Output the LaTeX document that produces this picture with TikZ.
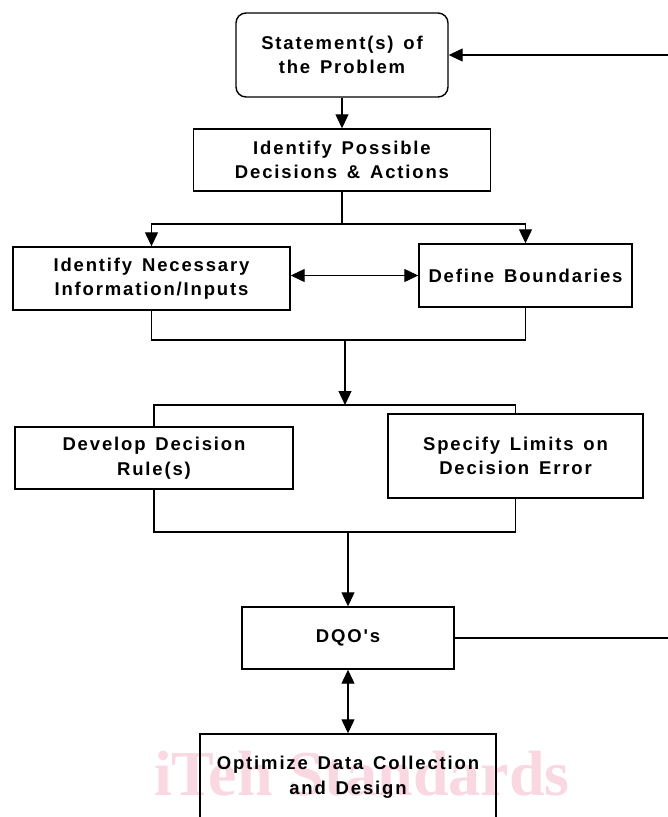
\documentclass[tikz,border=0pt]{standalone}
\usepackage{fontspec}
\setmainfont{Liberation Sans}
\newfontfamily\boxfont{Liberation Sans}[LetterSpace=10,WordSpace=1.4]
\newfontfamily\markfont{Liberation Serif}
\usetikzlibrary{arrows.meta}

\definecolor{markpink}{RGB}{249,216,226}

\begin{document}
\begin{tikzpicture}[x=1pt,y=-1pt,
  box/.style={draw, line width=1.4pt, inner sep=0pt, align=center,
    font=\boxfont\bfseries\fontsize{18.5}{24.5}\selectfont},
  link/.style={line width=1.2pt},
  arr/.style={link, -{Triangle[length=14pt,width=13pt]}},
  dbl/.style={link, {Triangle[length=14pt,width=13pt]}-{Triangle[length=14pt,width=13pt]}}]

% page area
\useasboundingbox (0,0) rectangle (668,817);
\fill[white] (0,0) rectangle (668,817);
\clip (0,0) rectangle (668,817);

% watermark behind everything
\node[text=markpink, inner sep=0pt, anchor=base west,
  font=\markfont\bfseries\fontsize{64}{64}\selectfont] (mark) at (154,795) {iTeh Standards};

% process boxes
\node[box, rounded corners=10pt, minimum width=212pt, minimum height=84pt] (stmt) at (342,55) {Statement(s) of\\the Problem};
\node[box, minimum width=297pt, minimum height=62pt] (poss) at (342,160) {Identify Possible\\Decisions \& Actions};
\node[box, minimum width=277pt, minimum height=63pt] (info) at (151.5,278.5) {Identify Necessary\\Information/Inputs};
\node[box, minimum width=213pt, minimum height=63pt] (bound) at (525.5,275.5) {Define Boundaries};
\node[box, minimum width=278pt, minimum height=62pt] (rule) at (154,458) {Develop Decision\\Rule(s)};
\node[box, minimum width=255pt, minimum height=84pt] (limit) at (515.5,456) {Specify Limits on\\Decision Error};
\node[box, minimum width=212pt, minimum height=62pt] (dqo) at (348,638) {DQO's};
\node[box, minimum width=296pt, minimum height=86pt] (opt) at (348,777) {Optimize Data Collection\\and Design};

% junction points
\coordinate (fbtop) at (668,55);
\coordinate (fbbot) at (668,638);
\coordinate (split) at (342,224);
\coordinate (join1) at (345,340);
\coordinate (fork2) at (345,405);
\coordinate (join2) at (348,532);

% connectors
\draw[arr] (fbtop) -- (stmt.east);
\draw[arr] (stmt.south) -- (poss.north);
\draw[link] (poss.south) -- (split);
\draw[arr] (split) -| (info.north);
\draw[arr] (split) -| (bound.north);
\draw[dbl] (info.east |- bound.west) -- (bound.west);
\draw[link] (info.south) |- (join1) -| (bound.south);
\draw[arr] (join1) -- (fork2);
\draw[link] (rule.north) |- (fork2) -| (limit.north);
\draw[link] (rule.south) |- (join2) -| (limit.south);
\draw[arr] (join2) -- (dqo.north);
\draw[link] (dqo.east) -- (fbbot);
\draw[dbl] (dqo.south) -- (opt.north);
\end{tikzpicture}
\end{document}
